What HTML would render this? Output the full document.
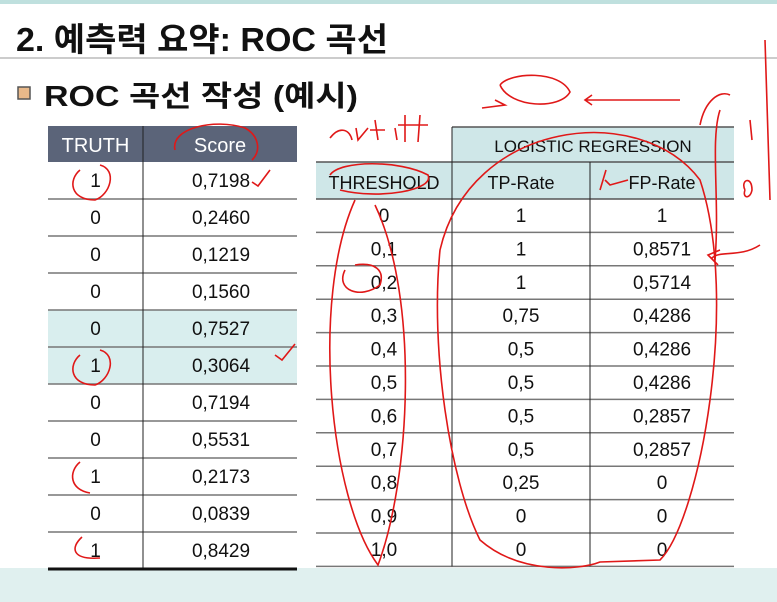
<!DOCTYPE html>
<html><head><meta charset="utf-8">
<style>
html,body{margin:0;padding:0;background:#fff;}
svg{display:block;font-family:"Liberation Sans","Noto Sans CJK KR",sans-serif;}
</style></head>
<body>
<svg id="s" width="777" height="602" viewBox="0 0 777 602" xmlns="http://www.w3.org/2000/svg">
  <rect x="0" y="0" width="777" height="4" fill="#bfe0de"/>
  <text x="16" y="51" font-size="33" font-weight="bold" fill="#111" textLength="372" lengthAdjust="spacingAndGlyphs">2. 예측력 요약: ROC 곡선</text>
  <line x1="0" y1="58" x2="777" y2="58" stroke="#bbb" stroke-width="1.5"/>
  <rect x="18" y="87" width="12" height="12" fill="#e9b98a" stroke="#555" stroke-width="1.5"/>
  <text x="44" y="106" font-size="29" font-weight="bold" fill="#111" textLength="314" lengthAdjust="spacingAndGlyphs">ROC 곡선 작성 (예시)</text>
  <rect x="0" y="568" width="777" height="34" fill="#e0f0ef"/>
  <g id="left"></g>
  <g id="right"></g>
  <g id="ann" fill="none" stroke="#e01818" stroke-width="1.6">
    <path d="M175 150 C170 128 215 118 245 128 C258 135 262 150 252 160"/>
    <path d="M252 182 L258 186 L270 170"/>
    <path d="M80 170 C68 180 70 200 95 200 C110 195 118 170 100 165"/>
    <path d="M80 355 C68 365 70 385 95 385 C110 380 118 355 100 350"/>
    <path d="M275 355 L282 360 L295 344"/>
    <path d="M80 462 C68 472 70 490 90 493"/>
    <path d="M82 537 C70 548 72 560 100 558"/>
    <path d="M330 138 C340 125 350 130 352 140 M356 128 L358 140 L368 128 M375 120 L378 140 M370 130 L385 130 M395 128 L397 140 M405 115 L405 142 M398 125 L412 125 M420 115 L418 142 M412 125 L428 125"/>
    <path d="M330 175 C340 160 400 160 428 175 C435 190 380 200 340 190"/>
    <path d="M355 200 C310 300 330 500 378 565 C410 480 420 300 375 205"/>
    <path d="M440 250 C470 120 640 100 700 180 C740 300 700 520 660 560 L600 562 C580 570 520 575 480 540 C450 480 430 350 440 250"/>
    <path d="M345 270 C335 290 360 300 380 285 C385 270 375 262 355 265"/>
    <path d="M500 85 C510 72 560 70 570 92 C560 110 510 108 500 85"/>
    <path d="M585 100 L680 100 M592 95 L585 100 L592 105"/>
    <path d="M605 180 L610 185 L628 180 M600 190 L606 170"/>
    <path d="M712 258 C720 250 740 258 760 245 M720 250 L708 255 L718 265"/>
    <path d="M700 125 C705 100 720 90 730 95 M715 260 C720 200 710 140 720 110 M765 40 L770 200 M750 120 L752 140 M745 190 C740 180 752 175 752 190 C750 200 742 198 745 190"/>
    <path d="M495 100 L505 105 L482 108"/>
  </g>
</svg>
<script>
const NS='http://www.w3.org/2000/svg';
const truth=['1','0','0','0','0','1','0','0','1','0','1'];
const scores=['0.7198','0.2460','0.1219','0.1560','0.7527','0.3064','0.7194','0.5531','0.2173','0.0839','0.8429'];
const highlightRows=[4,5];
const thresholds=['0','0.1','0.2','0.3','0.4','0.5','0.6','0.7','0.8','0.9','1.0'];
const tpRate=['1','1','1','0.75','0.5','0.5','0.5','0.5','0.25','0','0'];
const fpRate=['1','0.8571','0.5714','0.4286','0.4286','0.4286','0.2857','0.2857','0','0','0'];

function mk(tag,attrs,parent,txt){const e=document.createElementNS(NS,tag);for(const k in attrs)e.setAttribute(k,attrs[k]);if(txt!==undefined)e.textContent=txt;parent.appendChild(e);return e;}
const L=document.getElementById('left'), R=document.getElementById('right');





const lx0=48,lx1=143,lx2=297,lh0=126,lh1=162,lrh=37;
let h=mk('rect',{x:lx0,y:lh0,width:lx2-lx0,height:lh1-lh0,fill:'#5b6479'},L);


let t=mk('text',{x:(lx0+lx1)/2,y:152,'font-size':20,fill:'#fff','text-anchor':'middle'},L,'TRUTH');


t=mk('text',{x:(lx1+lx2)/2,y:152,'font-size':20,fill:'#fff','text-anchor':'middle'},L,'Score');


truth.forEach((v,i)=>{
  const y=lh1+i*lrh;
  if(highlightRows.includes(i)){const r=mk('rect',{x:lx0,y:y,width:lx2-lx0,height:lrh,fill:'#d9eeee'},L);
    
    }
  const a=mk('text',{x:(lx0+lx1)/2,y:y+25,'font-size':19,fill:'#111','text-anchor':'middle'},L,v);
  
  
  const b=mk('text',{x:(lx1+lx2)/2+1,y:y+25,'font-size':19,fill:'#111','text-anchor':'middle'},L,scores[i].replace('.',','));
  
  
  if(i>0){const l=mk('line',{x1:lx0,x2:lx2,y1:y,y2:y,stroke:'#777','stroke-width':1.5},L);
    
    }
});
let ll=mk('line',{x1:lx1,x2:lx1,y1:lh0,y2:lh1+truth.length*lrh,stroke:'#222','stroke-width':1},L);


ll=mk('line',{x1:lx0,x2:lx2,y1:lh1+truth.length*lrh,y2:lh1+truth.length*lrh,stroke:'#111','stroke-width':3},L);



const rx0=316,rx1=452,rx2=590,rx3=734,ry0=127,ry1=162,ry2=199,rrh=33.4;
let r=mk('rect',{x:rx1,y:ry0,width:rx3-rx1,height:ry1-ry0,fill:'#cfe7e8'},R);


r=mk('rect',{x:rx0,y:ry1,width:rx3-rx0,height:ry2-ry1,fill:'#cfe7e8'},R);


[[rx1,ry0],[rx0,ry1],[rx0,ry2]].forEach(([x,y])=>{const l=mk('line',{x1:x,x2:rx3,y1:y,y2:y,stroke:'#555','stroke-width':1.5},R);
  
  });
t=mk('text',{x:(rx1+rx3)/2,y:152,'font-size':17,fill:'#111','text-anchor':'middle'},R,'LOGISTIC REGRESSION');


[['THRESHOLD',(rx0+rx1)/2],['TP-Rate',(rx1+rx2)/2],['FP-Rate',(rx2+rx3)/2]].forEach(([s,x])=>{
  const e=mk('text',{x:x,y:189,'font-size':18,fill:'#111','text-anchor':'middle'},R,s);
  
  });
thresholds.forEach((v,i)=>{
  const y=ry2+i*rrh;
  [[v,(rx0+rx1)/2],[tpRate[i],(rx1+rx2)/2],[fpRate[i],(rx2+rx3)/2]].forEach(([s,x])=>{
    const e=mk('text',{x:x,y:y+23,'font-size':19,fill:'#111','text-anchor':'middle'},R,s.replace('.',','));
    
    });
  const l=mk('line',{x1:rx0,x2:rx3,y1:y+rrh,y2:y+rrh,stroke:'#777','stroke-width':1.5},R);
  
  
});
const rb=ry2+thresholds.length*rrh;
[[rx1,ry0],[rx2,ry1]].forEach(([x,y])=>{const l=mk('line',{x1:x,x2:x,y1:y,y2:rb,stroke:'#222','stroke-width':1},R);
  
  });
</script>
</body></html>
